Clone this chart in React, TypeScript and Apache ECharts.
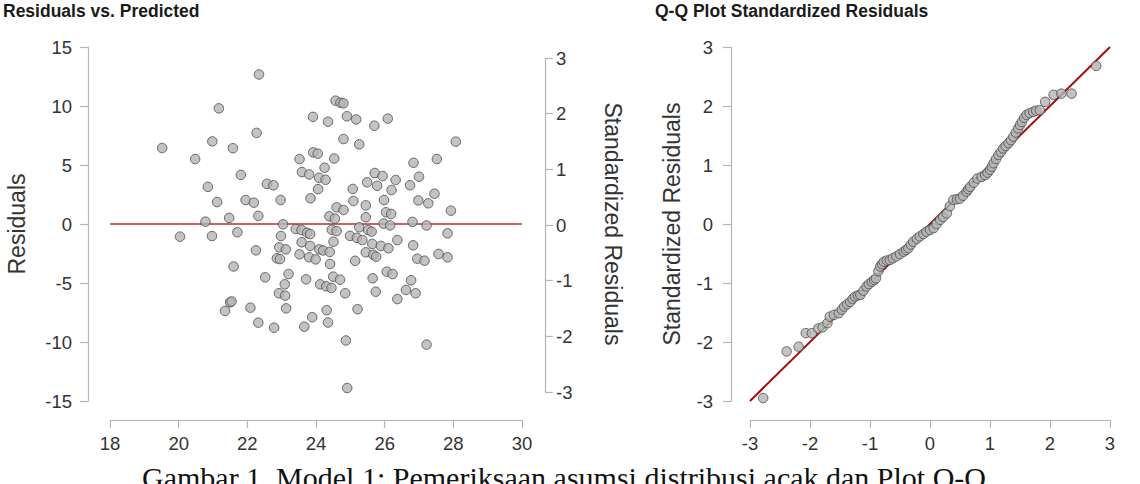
import React, { useEffect, useRef } from "react";
import * as echarts from "echarts";

// Model 1 fitted values (x) against raw residuals (y)
const residualPoints: [number, number][] = [
  [19.52, 6.44], [20.04, -1.07], [20.48, 5.5], [20.78, 0.2], [20.85, 3.15],
  [20.97, -1.02], [20.98, 7.0], [21.12, 1.86], [21.17, 9.8], [21.35, -7.37],
  [21.47, 0.52], [21.5, -6.64], [21.54, -6.56], [21.58, 6.42], [21.6, -3.6],
  [21.71, -0.7], [21.81, 4.16], [21.95, 2.03], [22.09, -7.09], [22.19, 1.81],
  [22.25, -2.23], [22.27, 7.72], [22.32, 0.69], [22.32, -8.36], [22.34, 12.67],
  [22.52, -4.52], [22.57, 3.4], [22.76, 3.28], [22.78, -8.79], [22.97, 2.03],
  [22.98, -1.02], [22.93, -1.98], [22.86, -2.91], [22.95, -2.97], [23.04, -0.03],
  [23.12, -2.15], [23.09, -5.11], [22.92, -5.87], [23.1, -6.07], [23.13, -7.15],
  [23.2, -4.24], [23.41, -0.42], [23.52, 5.5], [23.52, -2.57], [23.58, -0.51],
  [23.58, -1.55], [23.59, 4.4], [23.66, -8.7], [23.71, -4.69], [23.74, -0.74],
  [23.8, -2.82], [23.91, 9.08], [23.92, 6.07], [24.05, 5.96], [23.8, 4.2],
  [23.84, 2.18], [23.83, -0.85], [23.83, -1.86], [23.89, -7.9], [23.99, -3.0],
  [24.09, 3.92], [24.06, 2.95], [24.1, -2.15], [24.12, -5.11], [24.21, -2.24],
  [24.25, 4.77], [24.28, 3.75], [24.31, -7.3], [24.3, -5.28], [24.35, 8.67],
  [24.35, -8.35], [24.39, 0.65], [24.4, -2.37], [24.41, -3.39], [24.45, -5.42],
  [24.46, -0.48], [24.5, -4.46], [24.51, -1.5], [24.53, 5.55], [24.55, 0.45],
  [24.57, 10.45], [24.6, -0.6], [24.6, 1.41], [24.7, -4.72], [24.71, 10.28],
  [24.8, 10.23], [24.8, 1.19], [24.8, 7.2], [24.85, -5.87], [24.87, -9.87],
  [24.9, 9.13], [24.91, -13.9], [24.99, -1.0], [25.07, 2.97], [25.09, 1.95],
  [25.14, -3.12], [25.17, 8.86], [25.19, -1.17], [25.21, -7.22], [25.26, 6.75],
  [25.26, -0.28], [25.35, -1.36], [25.45, 1.58], [25.45, 0.57], [25.45, -2.4],
  [25.49, 3.53], [25.52, -0.51], [25.62, -0.65], [25.64, -1.69], [25.65, -4.6],
  [25.67, -2.6], [25.75, -2.77], [25.7, 8.33], [25.71, 4.32], [25.74, -5.74],
  [25.78, 3.24], [25.89, -1.86], [25.94, 4.07], [25.97, 0.03], [25.98, 2.03],
  [26.04, 0.99], [26.06, -4.04], [26.09, 8.93], [26.11, -2.06], [26.16, -0.12],
  [26.19, 0.85], [26.2, 2.88], [26.23, -4.24], [26.32, 3.73], [26.37, -1.36],
  [26.37, -6.36], [26.62, -5.59], [26.74, 3.28], [26.77, -4.77], [26.81, 0.18],
  [26.83, -1.81], [26.84, 5.19], [26.9, -5.87], [26.95, -2.94], [26.98, 2.0],
  [27.0, 4.01], [27.16, -3.11], [27.22, -0.12], [27.22, -10.22], [27.27, 1.75],
  [27.45, 2.57], [27.52, 5.5], [27.57, -2.54], [27.83, -0.79], [27.83, -2.82],
  [27.93, 1.13], [28.07, 6.98],
];

// Theoretical normal quantile (x) against standardized residual (y)
const qqPoints: [number, number][] = [
  [-2.78, -2.95], [-2.39, -2.16], [-2.19, -2.08], [-2.07, -1.85], [-1.97, -1.85],
  [-1.86, -1.77], [-1.79, -1.75], [-1.71, -1.68], [-1.67, -1.57], [-1.6, -1.54],
  [-1.52, -1.51], [-1.47, -1.45], [-1.43, -1.4], [-1.38, -1.36], [-1.33, -1.32],
  [-1.29, -1.27], [-1.25, -1.23], [-1.2, -1.21], [-1.16, -1.2], [-1.11, -1.13],
  [-1.06, -1.06], [-1.02, -1.02], [-0.97, -0.98], [-0.93, -0.95], [-0.9, -0.92],
  [-0.86, -0.8], [-0.83, -0.72], [-0.8, -0.68], [-0.77, -0.64], [-0.72, -0.62],
  [-0.67, -0.61], [-0.62, -0.58], [-0.56, -0.55], [-0.5, -0.51], [-0.44, -0.47],
  [-0.4, -0.44], [-0.36, -0.41], [-0.32, -0.35], [-0.28, -0.3], [-0.22, -0.25],
  [-0.17, -0.21], [-0.11, -0.17], [-0.06, -0.13], [0.0, -0.1], [0.06, -0.07],
  [0.11, 0.0], [0.17, 0.07], [0.22, 0.12], [0.28, 0.18], [0.33, 0.3],
  [0.39, 0.41], [0.45, 0.42], [0.5, 0.43], [0.55, 0.48], [0.61, 0.55],
  [0.64, 0.59], [0.67, 0.63], [0.73, 0.7], [0.79, 0.77], [0.86, 0.8],
  [0.92, 0.83], [0.96, 0.87], [1.0, 0.92], [1.03, 0.97], [1.06, 1.03],
  [1.1, 1.1], [1.14, 1.17], [1.18, 1.22], [1.22, 1.28], [1.26, 1.32],
  [1.31, 1.37], [1.35, 1.42], [1.39, 1.48], [1.43, 1.55], [1.47, 1.62],
  [1.5, 1.68], [1.53, 1.73], [1.57, 1.8], [1.61, 1.85], [1.66, 1.88],
  [1.72, 1.9], [1.77, 1.92], [1.83, 1.93], [1.92, 2.07], [2.06, 2.19],
  [2.19, 2.21], [2.36, 2.21], [2.77, 2.68],
];

// Zero-residual reference and the identity line of the Q-Q plot
const zeroLine: [number, number][] = [[18, 0], [30, 0]];
const identityLine: [number, number][] = [[-3, -3], [3, 3]];

// Axis ranges: [min, max, interval]
const predictedAxis = [18, 30, 2];
const residualAxis = [-15, 15, 5];
const standardizedAxis = [-3, 3, 1];
const theoreticalAxis = [-3, 3, 1];

const SANS = "'Liberation Sans', Arial, Helvetica, sans-serif";
const SERIF = "'Liberation Serif', 'Times New Roman', serif";
const AXIS_GRAY = "#b5b5b5";
const LABEL_COLOR = "#333333";

function valueAxis(range: number[], extra: Record<string, unknown>) {
  return {
    type: "value",
    min: range[0],
    max: range[1],
    interval: range[2],
    axisLine: { show: true, onZero: false, lineStyle: { color: AXIS_GRAY, width: 1.2 } },
    axisTick: { show: true, length: 8, lineStyle: { color: AXIS_GRAY, width: 1.2 } },
    axisLabel: { color: LABEL_COLOR, fontSize: 18, fontFamily: SANS },
    splitLine: { show: false },
    ...extra,
  };
}

function tickLabels(margin: number) {
  return { color: LABEL_COLOR, fontSize: 18.5, fontFamily: SANS, margin };
}

const pointStyle = {
  color: "#b4b4b4",
  borderColor: "#4a4a4a",
  borderWidth: 1,
};

export default function App() {
  const ref = useRef<HTMLDivElement>(null);

  useEffect(() => {
    if (!ref.current) return;
    const chart = echarts.init(ref.current, undefined, { renderer: "svg" });
    chart.setOption({
      animation: false,
      backgroundColor: "#ffffff",
      grid: [
        { left: 110, top: 47, width: 412, height: 354 },
        { left: 110, top: 58, width: 412, height: 334 },
        { left: 750, top: 47, width: 360, height: 354 },
      ],
      xAxis: [
        valueAxis(predictedAxis, { gridIndex: 0, offset: 19, axisLabel: tickLabels(14) }),
        valueAxis(predictedAxis, { gridIndex: 1, show: false }),
        valueAxis(theoreticalAxis, { gridIndex: 2, offset: 19, axisLabel: tickLabels(14) }),
      ],
      yAxis: [
        valueAxis(residualAxis, { gridIndex: 0, offset: 22, axisLabel: tickLabels(16) }),
        valueAxis(standardizedAxis, { gridIndex: 1, position: "right", offset: 23, axisLabel: tickLabels(11) }),
        valueAxis(standardizedAxis, { gridIndex: 2, offset: 19, axisLabel: tickLabels(18) }),
      ],
      series: [
        {
          type: "line",
          xAxisIndex: 0,
          yAxisIndex: 0,
          data: zeroLine,
          symbol: "none",
          lineStyle: { color: "#c96464", width: 2 },
          z: 1,
        },
        {
          type: "scatter",
          xAxisIndex: 0,
          yAxisIndex: 0,
          data: residualPoints,
          symbolSize: 9.5,
          itemStyle: pointStyle,
          z: 2,
        },
        {
          type: "line",
          xAxisIndex: 2,
          yAxisIndex: 2,
          data: identityLine,
          symbol: "none",
          lineStyle: { color: "#a50d0d", width: 2 },
          z: 1,
        },
        {
          type: "scatter",
          xAxisIndex: 2,
          yAxisIndex: 2,
          data: qqPoints,
          symbolSize: 9.5,
          itemStyle: pointStyle,
          z: 2,
        },
      ],
      graphic: [
        {
          type: "text",
          x: 3,
          y: 10.5,
          style: { text: "Residuals vs. Predicted", font: `bold 17.5px ${SANS}`, fill: "#1a1a1a", textVerticalAlign: "middle" },
        },
        {
          type: "text",
          x: 655,
          y: 10.5,
          style: { text: "Q-Q Plot Standardized Residuals", font: `bold 17.5px ${SANS}`, fill: "#1a1a1a", textVerticalAlign: "middle" },
        },
        {
          type: "text",
          x: 17,
          y: 224,
          rotation: Math.PI / 2,
          style: { text: "Residuals", font: `23px ${SANS}`, fill: LABEL_COLOR, textAlign: "center", textVerticalAlign: "middle" },
        },
        {
          type: "text",
          x: 613,
          y: 224,
          rotation: -Math.PI / 2,
          style: { text: "Standardized Residuals", font: `23px ${SANS}`, fill: LABEL_COLOR, textAlign: "center", textVerticalAlign: "middle" },
        },
        {
          type: "text",
          x: 672,
          y: 224,
          rotation: Math.PI / 2,
          style: { text: "Standardized Residuals", font: `23px ${SANS}`, fill: LABEL_COLOR, textAlign: "center", textVerticalAlign: "middle" },
        },
        {
          type: "text",
          x: 142,
          y: 477,
          style: {
            text: "Gambar 1. Model 1: Pemeriksaan asumsi distribusi acak dan Plot Q-Q",
            font: `30px ${SERIF}`,
            fill: "#111111",
            textVerticalAlign: "middle",
          },
        },
      ],
    });
    return () => chart.dispose();
  }, []);

  return (
    <div
      ref={ref}
      style={{ position: "absolute", left: 0, top: 0, width: 1140, height: 484, background: "#fff" }}
    />
  );
}
